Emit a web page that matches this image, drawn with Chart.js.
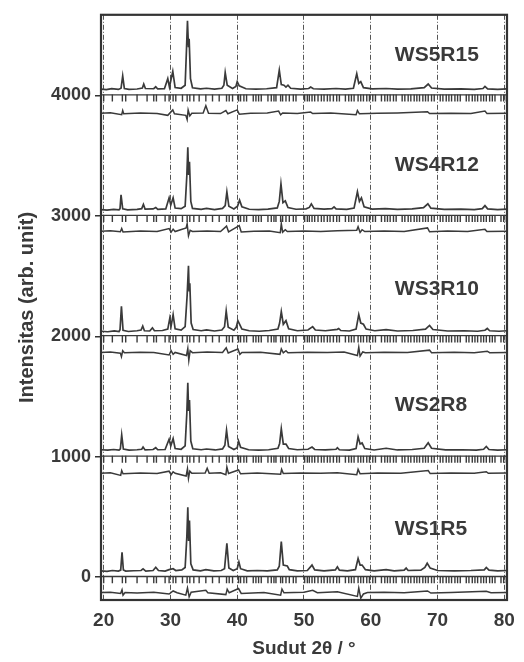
<!DOCTYPE html>
<html>
<head>
    <title>Pola XRD WS1R5 - WS5R15</title>
    <script src="https://cdn.jsdelivr.net/npm/chart.js"></script>
    <style>
        body { margin: 0; background: white; }
        canvas { display: block; }
    </style>
</head>
<body>
    <canvas id="xrd" width="524" height="662"></canvas>

    <script>
        // sample names and where their names are written (2theta, intensity)
        const sampleNames = ['WS5R15', 'WS4R12', 'WS3R10', 'WS2R8', 'WS1R5'];
        const nameX = 63.6;
        const nameY = [4336, 3418, 2393, 1426, 400];

        // level of the reflection tick rows for each sample
        const tickRowY = [4005, 3005, 2005, 1005, 5];
        const tickMarkY = [3978, 2978, 1978, 978, -22];

        const xTickVals = [20, 30, 40, 50, 60, 70, 80];
        const yTickVals = [0, 1000, 2000, 3000, 4000];

        // Bragg reflection positions (2theta)
        const reflections = [20.0, 21.3, 22.8, 23.3, 25.0, 26.5, 27.5, 27.9, 29.2, 29.8, 30.4, 30.8,
            31.8, 32.5, 32.9, 33.5, 34.3, 35.3, 36.3, 37.3, 38.4, 38.8, 39.3, 40.2, 40.5, 41.0,
            41.4, 42.4, 42.8, 43.2, 43.6, 44.6, 45.1, 45.5, 45.8, 46.5, 46.8, 47.3, 47.8, 48.4,
            48.8, 50.1, 50.5, 50.8, 51.2, 51.6, 52.1, 52.6, 53.0, 53.5, 53.9, 54.4, 54.9, 55.3,
            56.2, 56.7, 57.1, 57.5, 58.1, 58.5, 58.9, 59.4, 59.8, 60.3, 60.7, 61.6, 62.1, 62.5,
            62.9, 63.4, 63.8, 64.7, 65.1, 65.6, 66.0, 66.5, 66.9, 67.3, 67.8, 68.2, 68.6, 69.1,
            69.5, 70.4, 70.8, 71.3, 71.7, 72.1, 72.6, 73.0, 73.4, 74.3, 74.7, 75.2, 75.6, 76.0,
            76.5, 76.9, 77.3, 77.8, 78.2, 78.6, 79.5, 79.9, 80.3];

        // observed patterns [2theta, intensity]
        const ws5Obs = [[19.6,4052],[20.4,4048],[21.2,4056],[22.2,4050],[22.6,4060],[22.85,4162],[23.1,4058],[23.8,4050],[25.0,4054],
            [25.8,4062],[26.0,4095],[26.25,4058],[27.5,4056],[27.8,4072],[28.1,4054],[29.1,4056],[29.6,4140],[29.85,4070],
            [30.35,4200],[30.7,4066],[31.6,4060],[32.2,4085],[32.4,4380],[32.55,4620],[32.7,4400],[32.8,4470],[33.0,4140],
            [33.3,4064],[34.5,4055],[35.4,4060],[36.6,4052],[37.7,4060],[38.0,4085],[38.2,4190],[38.5,4085],[39.3,4058],
            [39.8,4075],[40.0,4115],[40.3,4080],[41.3,4056],[42.8,4052],[44.4,4056],[45.9,4065],[46.3,4210],[46.6,4090],
            [47.0,4085],[47.3,4070],[47.6,4085],[48.0,4060],[49.5,4052],[50.7,4058],[51.0,4070],[51.4,4056],[53.0,4052],
            [54.8,4058],[56.2,4052],[57.4,4060],[57.9,4180],[58.2,4100],[58.5,4115],[58.9,4065],[60.2,4055],[62.3,4058],
            [64.0,4052],[66.0,4055],[68.0,4065],[68.6,4095],[69.1,4062],[71.0,4052],[73.5,4055],[75.5,4050],[76.8,4058],
            [77.1,4075],[77.5,4055],[79.0,4050],[80.4,4054]];

        const ws4Obs = [[19.6,3052],[20.5,3048],[21.5,3054],[22.3,3050],[22.45,3060],[22.6,3175],[22.85,3058],[23.6,3050],[25.0,3054],
            [25.7,3060],[25.95,3095],[26.2,3056],[27.4,3058],[27.8,3070],[28.1,3054],[29.3,3058],[29.8,3150],[30.05,3090],
            [30.4,3150],[30.7,3065],[31.6,3060],[32.2,3080],[32.45,3330],[32.6,3570],[32.72,3340],[32.85,3450],[33.05,3120],
            [33.3,3062],[34.6,3054],[35.4,3062],[36.6,3052],[37.8,3062],[38.2,3085],[38.45,3200],[38.75,3080],[39.5,3058],
            [40.05,3080],[40.35,3130],[40.7,3075],[41.8,3055],[43.2,3052],[44.6,3056],[46.0,3066],[46.3,3120],[46.55,3265],
            [46.85,3110],[47.2,3125],[47.6,3070],[48.8,3055],[50.3,3058],[50.8,3070],[51.1,3100],[51.5,3062],[53.0,3056],
            [54.2,3060],[54.5,3075],[54.8,3058],[56.4,3054],[57.5,3065],[58.0,3200],[58.3,3120],[58.6,3150],[59.0,3075],
            [60.2,3056],[62.2,3060],[64.0,3054],[66.2,3058],[67.9,3068],[68.55,3100],[69.0,3064],[71.0,3054],[73.5,3056],
            [75.5,3052],[76.7,3060],[77.1,3085],[77.5,3058],[79.0,3052],[80.4,3056]];

        const ws3Obs = [[19.6,2042],[20.6,2038],[21.6,2045],[22.3,2040],[22.45,2055],[22.66,2250],[22.9,2050],[23.7,2040],[25.0,2046],
            [25.6,2052],[25.85,2085],[26.1,2046],[26.9,2044],[27.3,2070],[27.6,2046],[28.8,2048],[29.6,2060],[29.9,2150],
            [30.1,2085],[30.4,2180],[30.7,2062],[31.6,2052],[32.2,2080],[32.5,2340],[32.7,2585],[32.8,2380],[32.9,2440],
            [33.1,2110],[33.4,2056],[34.6,2046],[35.4,2054],[36.6,2044],[37.7,2052],[38.1,2080],[38.35,2210],[38.65,2075],
            [39.5,2050],[39.85,2075],[40.1,2130],[40.4,2095],[40.7,2060],[41.8,2046],[43.3,2042],[44.8,2048],[46.1,2060],
            [46.35,2110],[46.6,2205],[46.9,2100],[47.3,2130],[47.7,2062],[49.0,2046],[50.6,2052],[51.3,2080],[51.7,2052],
            [53.2,2046],[55.0,2058],[55.2,2065],[55.5,2048],[56.8,2044],[57.8,2060],[58.2,2180],[58.5,2110],[58.9,2100],
            [59.3,2060],[60.6,2046],[62.3,2055],[64.0,2044],[66.3,2048],[68.2,2060],[68.8,2090],[69.3,2056],[71.5,2044],
            [74.0,2046],[76.0,2042],[77.1,2050],[77.45,2065],[77.8,2046],[79.2,2042],[80.4,2046]];

        const ws2Obs = [[19.6,1058],[20.6,1054],[21.5,1060],[22.3,1055],[22.5,1065],[22.7,1180],[22.95,1064],[23.8,1055],[25.0,1058],
            [25.7,1062],[25.9,1080],[26.2,1056],[27.4,1060],[27.8,1075],[28.1,1058],[29.2,1060],[29.8,1145],[30.05,1090],
            [30.4,1150],[30.7,1068],[31.6,1062],[32.2,1090],[32.45,1360],[32.6,1615],[32.72,1380],[32.85,1470],[33.05,1130],
            [33.35,1066],[34.6,1058],[35.4,1064],[36.7,1056],[37.8,1065],[38.15,1095],[38.4,1220],[38.7,1085],[39.5,1060],
            [40.0,1075],[40.2,1130],[40.5,1078],[41.7,1058],[43.2,1055],[44.7,1058],[46.1,1070],[46.35,1110],[46.6,1232],
            [46.9,1105],[47.3,1105],[47.7,1068],[49.0,1058],[50.6,1062],[51.2,1080],[51.6,1060],[53.2,1056],[54.8,1062],
            [55.0,1075],[55.3,1058],[56.8,1055],[57.8,1068],[58.1,1165],[58.4,1105],[58.7,1115],[59.1,1068],[60.5,1056],
            [62.3,1070],[64.0,1056],[66.2,1060],[68.0,1070],[68.6,1115],[69.1,1070],[71.2,1056],[73.6,1058],[75.8,1055],
            [76.9,1062],[77.3,1085],[77.7,1060],[79.0,1055],[80.4,1058]];

        const ws1Obs = [[19.6,52],[20.5,48],[21.3,55],[22.2,50],[22.55,58],[22.75,205],[22.95,60],[23.3,50],[24.5,53],
            [25.6,55],[25.9,68],[26.3,50],[27.4,55],[27.8,82],[28.2,55],[29.2,50],[29.8,62],[30.4,70],[30.8,55],[31.7,60],
            [32.2,80],[32.45,330],[32.6,580],[32.72,300],[32.85,470],[33.05,110],[33.4,60],[34.5,52],[35.3,62],[36.5,52],
            [37.6,55],[38.1,70],[38.45,280],[38.75,75],[39.4,55],[40.0,70],[40.25,125],[40.5,70],[41.5,52],[43.0,55],
            [44.5,52],[46.0,60],[46.3,90],[46.6,295],[46.9,100],[47.5,92],[47.8,62],[49.0,52],[50.5,55],[51.2,100],
            [51.6,60],[53.0,52],[54.7,60],[55.0,85],[55.3,58],[56.5,52],[57.7,62],[58.1,155],[58.4,100],[58.7,100],
            [59.2,62],[60.5,52],[62.3,62],[63.5,52],[65.0,58],[65.3,75],[65.6,55],[67.5,58],[68.1,80],[68.45,115],
            [68.9,75],[70.0,55],[72.5,52],[75.0,55],[77.0,60],[77.3,80],[77.7,58],[79.0,52],[80.4,55]];

        // difference curves (observed - calculated)
        const ws5Diff = [[19.6,3852],[21.0,3856],[22.7,3840],[22.85,3875],[23.0,3848],[25.5,3855],[28.0,3850],[29.6,3835],
            [30.35,3880],[30.6,3848],[32.3,3835],[32.5,3800],[32.65,3880],[32.9,3830],[33.2,3852],[34.9,3855],[35.3,3915],
            [35.7,3852],[37.5,3850],[38.3,3875],[38.6,3848],[40.0,3880],[40.3,3845],[42.0,3852],[44.5,3855],[46.2,3870],
            [46.5,3840],[46.8,3855],[49.0,3850],[51.0,3862],[51.3,3850],[54.0,3854],[57.8,3840],[58.0,3875],[58.3,3848],
            [61.0,3852],[64.0,3855],[68.5,3865],[68.8,3850],[72.0,3853],[75.0,3850],[77.1,3870],[77.4,3850],[80.4,3852]];

        const ws4Diff = [[19.6,2872],[21.0,2876],[22.5,2868],[22.7,2895],[22.9,2866],[25.5,2874],[28.0,2870],[29.8,2895],
            [30.1,2865],[30.4,2890],[30.7,2870],[32.35,2900],[32.5,2935],[32.7,2835],[32.95,2880],[33.3,2870],[35.5,2875],
            [37.5,2870],[38.4,2915],[38.7,2868],[40.3,2920],[40.6,2866],[42.5,2872],[44.8,2875],[46.45,2860],[46.6,2935],
            [46.8,2865],[47.2,2885],[47.5,2870],[50.0,2874],[52.5,2870],[55.0,2876],[57.9,2880],[58.1,2910],[58.4,2862],
            [58.7,2885],[59.1,2870],[62.0,2874],[65.0,2870],[68.5,2900],[68.8,2868],[71.5,2874],[74.5,2870],[77.1,2888],
            [77.4,2870],[80.4,2872]];

        const ws3Diff = [[19.6,1866],[21.0,1870],[22.5,1860],[22.66,1830],[22.85,1880],[23.1,1864],[25.5,1868],[27.5,1865],
            [29.8,1845],[30.1,1880],[30.4,1850],[30.7,1866],[32.4,1840],[32.6,1900],[32.75,1800],[32.95,1880],[33.3,1864],
            [35.5,1870],[37.8,1866],[38.35,1905],[38.65,1862],[40.1,1895],[40.4,1850],[40.7,1866],[43.5,1868],[46.4,1850],
            [46.6,1895],[46.9,1862],[47.3,1880],[47.6,1864],[50.5,1868],[53.5,1866],[56.0,1870],[58.0,1840],[58.2,1910],
            [58.4,1835],[58.8,1870],[59.2,1864],[62.0,1868],[65.5,1866],[68.8,1885],[69.1,1864],[72.5,1868],[75.5,1864],
            [77.45,1876],[77.8,1864],[80.4,1866]];

        const ws2Diff = [[19.6,862],[21.0,866],[22.55,845],[22.7,885],[22.9,858],[25.5,864],[28.0,860],[29.8,880],[30.1,850],
            [30.4,875],[30.7,862],[32.35,840],[32.55,900],[32.7,820],[32.9,880],[33.2,862],[35.2,865],[35.5,905],[35.8,862],
            [37.5,866],[38.3,850],[38.45,915],[38.7,860],[40.2,890],[40.5,858],[43.0,864],[46.5,855],[46.65,895],[46.9,860],
            [49.5,864],[52.5,862],[55.0,866],[57.9,850],[58.1,895],[58.4,858],[61.0,864],[64.5,862],[68.6,885],[68.9,860],
            [72.0,864],[75.5,862],[77.3,875],[77.6,862],[80.4,864]];

        const ws1Diff = [[19.6,-128],[21.0,-125],[22.55,-135],[22.75,-105],[22.9,-150],[23.2,-128],[25.0,-132],[27.5,-125],
            [29.8,-140],[30.4,-115],[31.0,-130],[32.3,-150],[32.55,-90],[32.8,-165],[33.1,-125],[35.3,-110],[35.6,-130],
            [38.3,-145],[38.5,-100],[38.8,-130],[40.2,-95],[40.6,-135],[44.0,-128],[46.5,-150],[46.7,-100],[47.0,-130],
            [50.0,-126],[51.3,-110],[52.0,-130],[55.0,-122],[58.0,-160],[58.2,-90],[58.5,-175],[58.9,-140],[59.5,-128],
            [62.0,-126],[65.0,-130],[68.5,-115],[69.0,-132],[72.0,-127],[77.3,-118],[78.0,-130],[80.4,-128]];

        const obsSets = [ws5Obs, ws4Obs, ws3Obs, ws2Obs, ws1Obs];
        const diffSets = [ws5Diff, ws4Diff, ws3Diff, ws2Diff, ws1Diff];

        const ink = '#3a3a3a';
        const fontFam = '"Liberation Sans", Arial, sans-serif';
        const toPts = arr => arr.map(p => ({ x: p[0], y: p[1] }));

        const datasets = [];
        sampleNames.forEach((name, i) => {
            datasets.push({ label: name + ' obs', data: toPts(obsSets[i]), showLine: true,
                borderColor: ink, borderWidth: 1.7, pointRadius: 0 });
            datasets.push({ label: name + ' row', data: [{ x: 19.6, y: tickRowY[i] }, { x: 80.4, y: tickRowY[i] }],
                showLine: true, borderColor: ink, borderWidth: 1.3, pointRadius: 0 });
            datasets.push({ label: name + ' hkl', data: reflections.map(r => ({ x: r, y: tickMarkY[i] })),
                showLine: false, pointStyle: 'line', rotation: 90, pointRadius: 3.5,
                borderColor: ink, borderWidth: 1.4 });
            datasets.push({ label: name + ' diff', data: toPts(diffSets[i]), showLine: true,
                borderColor: ink, borderWidth: 1.5, pointRadius: 0 });
        });

        // frame round the plot + sample names
        const framePlugin = {
            id: 'frame',
            afterDatasetsDraw(chart) {
                const { ctx, chartArea: a, scales } = chart;
                ctx.save();
                ctx.strokeStyle = '#333';
                ctx.lineWidth = 2.2;
                ctx.strokeRect(a.left, a.top, a.right - a.left, a.bottom - a.top);
                ctx.fillStyle = '#3a3a3a';
                ctx.font = 'bold 21px ' + fontFam;
                ctx.textAlign = 'left';
                ctx.textBaseline = 'middle';
                sampleNames.forEach((n, i) => {
                    ctx.fillText(n, scales.x.getPixelForValue(nameX), scales.y.getPixelForValue(nameY[i]));
                });
                ctx.restore();
            }
        };

        new Chart(document.getElementById('xrd'), {
            type: 'scatter',
            data: { datasets: datasets },
            options: {
                responsive: false,
                animation: false,
                layout: { padding: { top: 7, right: 16, left: 0, bottom: 0 } },
                plugins: { legend: { display: false }, tooltip: { enabled: false } },
                scales: {
                    x: {
                        min: 19.6, max: 80.4,
                        afterBuildTicks: s => { s.ticks = xTickVals.map(v => ({ value: v })); },
                        afterFit: s => { s.height = 62; },
                        grid: { color: '#555', lineWidth: 1, drawTicks: false },
                        border: { display: false, dash: [5, 2, 1, 2] },
                        ticks: { color: '#3a3a3a', padding: 9, font: { family: fontFam, size: 19, weight: 'bold' } },
                        title: { display: true, text: 'Sudut 2θ / °', color: '#3a3a3a',
                            padding: { top: 0, bottom: 2 }, font: { family: fontFam, size: 19, weight: 'bold' } }
                    },
                    y: {
                        min: -190, max: 4670,
                        afterBuildTicks: s => { s.ticks = yTickVals.map(v => ({ value: v })); },
                        afterFit: s => { s.width = 101; },
                        grid: { drawOnChartArea: false, drawTicks: true, tickLength: 6, color: '#333', lineWidth: 1.5 },
                        border: { display: false },
                        ticks: { color: '#3a3a3a', padding: 4, callback: v => String(v),
                            font: { family: fontFam, size: 18, weight: 'bold' } },
                        title: { display: true, text: 'Intensitas (arb. unit)', color: '#3a3a3a',
                            padding: { top: 15, bottom: 0 }, font: { family: fontFam, size: 20, weight: 'bold' } }
                    }
                }
            },
            plugins: [framePlugin]
        });
    </script>
</body>
</html>
